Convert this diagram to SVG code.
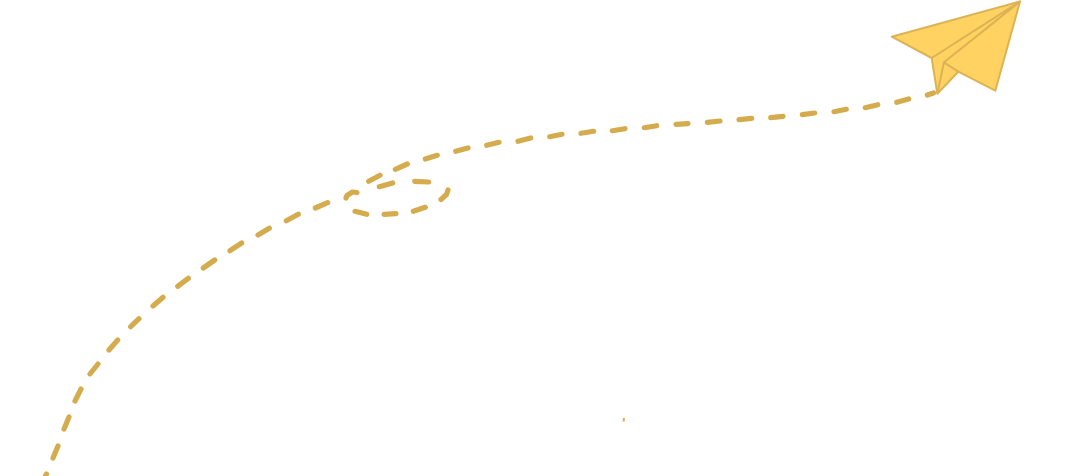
<svg xmlns="http://www.w3.org/2000/svg" width="1080" height="476" viewBox="0 0 1080 476">
<style>
.trail{fill:none;stroke:#d4ac4e;stroke-width:5.200;stroke-linecap:round;stroke-linejoin:round}
.plane{fill:#ffd262;stroke:#dbb354;stroke-width:2;stroke-linejoin:round}
.fold{fill:none;stroke:#dbb354;stroke-width:2;stroke-linejoin:round}
</style>
<rect width="1080" height="476" fill="#ffffff"/>
<g id="connectors">
<path id="trail" class="trail" d="M45 477L46.500 474M53 458L58 446M64 429L69 417M75 401L81 389M90 374L98 364M109 350L117.700 340M130.700 326.700L139 318.700M153 306L163 297.300M177.700 286.300L188.300 278.300M203.300 268L214.700 260M230 250.700L241.700 243M258 235L269.300 228.300M286.300 220.700L298.300 214.300M315.300 208L327.700 202.700M346 198L347 195.500L352.500 192L357 192.500M355 211.300L366.700 214.300M384 214.300L396 213.700M413.300 211.300L425.300 207.300M441 199.500L446.500 194.500L448 190M428.700 182L414.700 181.300M392.700 183L379.300 186.700M368.700 181.300L380 175.300M395.300 169.300L407.300 164M425.300 159L437.300 155.300M455.700 151.300L468 148M486.700 145.300L499 142.300M518 141.300L530.700 138M549.700 136.700L562 134.300M581 133.300L593.700 131.300M612.300 130.700L625 128.700M644.300 127.700L656.700 125.700M676 124.300L688 123.700M707.300 122.300L720 121M739 119.700L751.700 118.300M770.700 117.700L783 116.300M802.300 114.700L814.700 113M834 111.700L846.300 109.300M865.300 107.700L877.700 104.700M896.700 102.300L908.700 99M927.300 95L933.500 93"/>
</g>
<g id="paper-plane">
<polygon class="plane" points="1020,1.500 891.700,36.700 931.700,58 937.300,93.700 958.300,71.700 995.300,90.700"/>
<path class="fold" d="M931.700 58L1020 1.500L944 62.300L937.300 93.700M944 62.300L958.300 71.700"/>
</g>
<path id="speck" d="M624 418L623.600 421.500" fill="none" stroke="#dfa94e" stroke-width="2"/>
</svg>
